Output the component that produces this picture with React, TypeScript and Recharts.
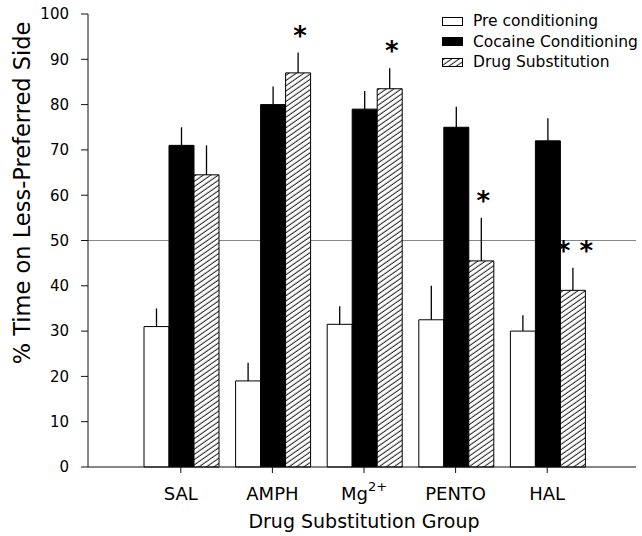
import React from 'react';
import { BarChart, Bar, XAxis, YAxis, ErrorBar, CartesianGrid, LabelList, Legend, Label } from 'recharts';

const FONT = '"DejaVu Sans", sans-serif';

const groups = ['SAL', 'AMPH', 'Mg2+', 'PENTO', 'HAL'];
const seriesNames = ['Pre conditioning', 'Cocaine Conditioning', 'Drug Substitution'];
const preConditioning = [31, 19, 31.5, 32.5, 30];
const preErr = [4, 4, 4, 7.5, 3.5];
const cocaineConditioning = [71, 80, 79, 75, 72];
const cocaineErr = [4, 4, 4, 4.5, 5];
const drugSubstitution = [64.5, 87, 83.5, 45.5, 39];
const subErr = [6.5, 4.5, 4.5, 9.5, 5];
const significance = ['', '*', '*', '*', '* *'];
const yTicks = [0, 10, 20, 30, 40, 50, 60, 70, 80, 90, 100];
const chanceLevel = [50];

const data = groups.map((g, i) => ({
  group: g,
  pre: preConditioning[i],
  preE: [0, preErr[i]],
  coc: cocaineConditioning[i],
  cocE: [0, cocaineErr[i]],
  sub: drugSubstitution[i],
  subE: [0, subErr[i]],
  sig: significance[i],
}));

const fills = ['#ffffff', '#000000', 'url(#hatch)'];

const XTick = (props: any) => {
  const { x, y, payload } = props;
  const v = String(payload.value);
  if (v === 'Mg2+') {
    return (
      <text x={x} y={y} dy="0.71em" textAnchor="middle" fontSize={18} fontFamily={FONT} fill="#000">
        Mg<tspan fontSize={13} dy={-9}>2+</tspan>
      </text>
    );
  }
  return (
    <text x={x} y={y} dy="0.71em" textAnchor="middle" fontSize={18} fontFamily={FONT} fill="#000">
      {v}
    </text>
  );
};

const StarLabel = (props: any) => {
  const vb = props.viewBox && props.viewBox.width !== undefined ? props.viewBox : props;
  const { x, y, width, height } = vb;
  const index = props.index;
  const s = significance[index];
  if (!s) return null;
  const v = drugSubstitution[index];
  const pxPerUnit = Math.abs(height) / v;
  const top = Math.min(y, y + height);
  const errTop = top - subErr[index] * pxPerUnit;
  const cy = errTop - 22;
  return (
    <text x={x + width / 2 + 2} y={cy + 14} textAnchor="middle" fontSize={26} fontWeight="bold" fontFamily={FONT} fill="#000">
      {s}
    </text>
  );
};

const LegendContent = () => (
  <div style={{ fontFamily: FONT, fontSize: 15.5, color: '#000' }}>
    {seriesNames.map((name, i) => (
      <div key={name} style={{ display: 'flex', alignItems: 'center', height: 20.5, whiteSpace: 'nowrap' }}>
        <svg width={21} height={9} style={{ marginRight: 10, display: 'block' }}>
          <rect x={0.5} y={0.5} width={20} height={8} fill={fills[i]} stroke="#000" strokeWidth={1} />
        </svg>
        <span>{name}</span>
      </div>
    ))}
  </div>
);

const YLabel = (p: any) => {
  const vb = p.viewBox || { x: 0, y: 14, width: 88, height: 453 };
  const cx = vb.x + 22;
  const cy = vb.y + vb.height * 0.395;
  return (
    <text
      x={cx}
      y={cy}
      transform={`rotate(-90 ${cx} ${cy})`}
      textAnchor="middle"
      dominantBaseline="central"
      fontSize={22.5}
      fontFamily={FONT}
      fill="#000"
    >
      % Time on Less-Preferred Side
    </text>
  );
};

const XLabel = (p: any) => {
  const vb = p.viewBox || { x: 88, y: 467, width: 548, height: 69 };
  const cx = vb.x + vb.width / 2 + 2;
  return (
    <text x={cx} y={vb.y + 61} textAnchor="middle" fontSize={19} fontFamily={FONT} fill="#000">
      Drug Substitution Group
    </text>
  );
};

export default function App() {
  return (
    <div style={{ position: 'absolute', left: 0, top: 0, width: 642, height: 536, background: '#fff' }}>
      <svg width={0} height={0} style={{ position: 'absolute' }}>
        <defs>
          <pattern id="hatch" patternUnits="userSpaceOnUse" width={10} height={4.3} patternTransform="rotate(-35)">
            <rect width={10} height={4.3} fill="#fff" />
            <line x1={0} y1={2} x2={10} y2={2} stroke="#000" strokeWidth={0.9} />
          </pattern>
        </defs>
      </svg>
      <BarChart
        width={642}
        height={536}
        data={data}
        margin={{ top: 14, right: 6, bottom: 0, left: 0 }}
        barCategoryGap={9}
        barGap={0}
      >
        <CartesianGrid vertical={false} horizontalValues={chanceLevel} stroke="#888" strokeWidth={1} />
        <XAxis
          dataKey="group"
          padding={{ left: 47, right: 43 }}
          height={69}
          tickSize={6}
          tickMargin={14}
          stroke="#111"
          tick={<XTick />}
          interval={0}
        >
          <Label content={<XLabel />} />
        </XAxis>
        <YAxis
          domain={[0, 100]}
          ticks={yTicks}
          width={88}
          tickSize={7}
          tickMargin={12}
          stroke="#111"
          tick={{ fill: '#000', fontSize: 15, fontFamily: FONT }}
          interval={0}
        >
          <Label content={<YLabel />} />
        </YAxis>
        <Bar dataKey="pre" name={seriesNames[0]} fill={fills[0]} stroke="#000" strokeWidth={1} isAnimationActive={false}>
          <ErrorBar dataKey="preE" width={0} stroke="#000" strokeWidth={1.3} direction="y" />
        </Bar>
        <Bar dataKey="coc" name={seriesNames[1]} fill={fills[1]} stroke="#000" strokeWidth={1} isAnimationActive={false}>
          <ErrorBar dataKey="cocE" width={0} stroke="#000" strokeWidth={1.3} direction="y" />
        </Bar>
        <Bar dataKey="sub" name={seriesNames[2]} fill={fills[2]} stroke="#000" strokeWidth={1} isAnimationActive={false}>
          <ErrorBar dataKey="subE" width={0} stroke="#000" strokeWidth={1.3} direction="y" />
          <LabelList dataKey="sig" content={<StarLabel />} />
        </Bar>
        <Legend
          layout="vertical"
          align="center"
          verticalAlign="middle"
          content={<LegendContent />}
          wrapperStyle={{ top: 11, left: 442, width: 200, height: 62 }}
        />
      </BarChart>
    </div>
  );
}
